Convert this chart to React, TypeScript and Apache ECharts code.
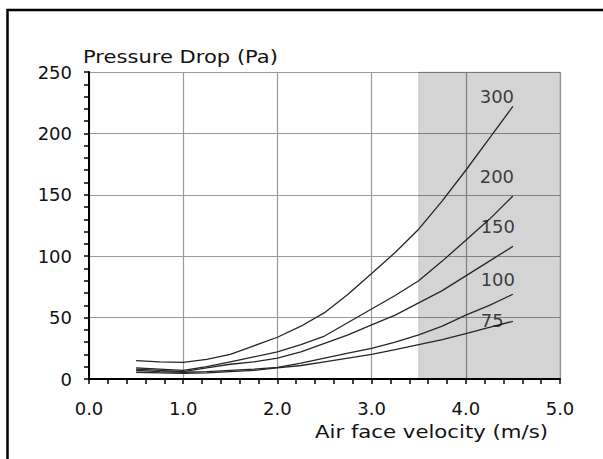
import React, { useEffect, useRef } from "react";
import * as echarts from "echarts";

const velocities = [0.5, 0.75, 1.0, 1.25, 1.5, 1.75, 2.0, 2.25, 2.5, 2.75, 3.0, 3.25, 3.5, 3.75, 4.0, 4.25, 4.5];
const curve300 = [15, 14, 13.5, 16, 20, 27, 34, 43, 54, 69, 86, 103, 122, 145, 170, 196, 222];
const curve200 = [9, 8, 7, 10, 14, 18, 22, 28, 35, 46, 57, 68, 80, 96, 113, 130, 149];
const curve150 = [8, 7, 6, 9, 12, 14, 17, 22, 29, 36, 44, 52, 62, 72, 84, 96, 108];
const curve100 = [7, 6, 5.5, 6, 7, 8, 9.5, 13, 17, 21, 25, 30, 36, 43, 52, 60, 69];
const curve75 = [5.5, 5, 4.5, 5, 6, 7, 9, 11, 14, 17, 20, 24, 28, 32, 37, 42, 47];
const curveNames = ["300", "200", "150", "100", "75"];
const curveLabelX = [4.33, 4.33, 4.34, 4.34, 4.28];
const curveLabelY = [230, 165, 124, 81, 48];
const shadedRange = [3.5, 5.0];
const yTitle = "Pressure Drop (Pa)";
const xTitle = "Air face velocity (m/s)";

const FONT = "DejaVu Sans";

export default function App() {
  const ref = useRef<HTMLDivElement>(null);
  useEffect(() => {
    if (!ref.current) return;
    const chart = echarts.init(ref.current, undefined, { renderer: "svg" });
    const curves = [curve300, curve200, curve150, curve100, curve75];
    const lineSeries = curves.map((c, i) => ({
      type: "line",
      name: curveNames[i],
      data: velocities.map((v, j) => [v, c[j]]),
      showSymbol: false,
      symbol: "none",
      lineStyle: { color: "#262626", width: 1.3 },
      z: 3,
    }));
    chart.setOption({
      animation: false,
      backgroundColor: "#ffffff",
      grid: { left: 89, right: 43, top: 72, bottom: 80 },
      xAxis: {
        type: "value",
        min: 0,
        max: 5,
        interval: 1,
        axisLine: { show: true, onZero: false, lineStyle: { color: "#000", width: 2 } },
        axisTick: { show: true, length: 5, lineStyle: { color: "#000", width: 1.5 } },
        minorTick: { show: true, splitNumber: 5, length: 5, lineStyle: { color: "#000", width: 1.5 } },
        splitLine: { show: true, lineStyle: { color: "#9a9a9a", width: 1.2 } },
        axisLabel: {
          formatter: (v: number) => v.toFixed(1),
          margin: 20,
          fontSize: 18,
          color: "#111",
          fontFamily: FONT,
        },
      },
      yAxis: {
        type: "value",
        min: 0,
        max: 250,
        interval: 50,
        axisLine: { show: true, onZero: false, lineStyle: { color: "#000", width: 2 } },
        axisTick: { show: true, length: 5, lineStyle: { color: "#000", width: 1.5 } },
        minorTick: { show: true, splitNumber: 5, length: 5, lineStyle: { color: "#000", width: 1.5 } },
        splitLine: { show: true, lineStyle: { color: "#9a9a9a", width: 1.2 } },
        axisLabel: { margin: 17, fontSize: 18, color: "#111", fontFamily: FONT },
      },
      series: [
        {
          type: "line",
          data: [],
          z: 1,
          markArea: {
            silent: true,
            itemStyle: { color: "rgba(0,0,0,0.17)", borderColor: "rgba(0,0,0,0.12)", borderWidth: 1 },
            data: [[{ xAxis: shadedRange[0], yAxis: 0 }, { xAxis: shadedRange[1], yAxis: 250 }]],
          },
        },
        ...lineSeries,
        {
          type: "scatter",
          symbolSize: 0,
          z: 4,
          data: curveNames.map((n, i) => [curveLabelX[i], curveLabelY[i], n]),
          label: {
            show: true,
            position: "inside",
            formatter: (p: any) => p.value[2],
            fontSize: 18,
            color: "#111",
            fontFamily: FONT,
          },
        },
      ],
      graphic: [
        {
          type: "text",
          x: 83,
          y: 57,
          scaleX: 1.17,
          style: { text: yTitle, fill: "#111", font: `18px ${FONT}`, align: "left", verticalAlign: "middle" },
        },
        {
          type: "text",
          x: 548,
          y: 432,
          scaleX: 1.18,
          style: { text: xTitle, fill: "#111", font: `18px ${FONT}`, align: "right", verticalAlign: "middle" },
        },
        {
          type: "rect",
          silent: true,
          z: 100,
          shape: { x: 7.5, y: 10, width: 700, height: 600 },
          style: { fill: "none", stroke: "#000", lineWidth: 2.5 },
        },
      ],
    });
    return () => chart.dispose();
  }, []);
  return (
    <div
      ref={ref}
      style={{ position: "fixed", left: 0, top: 0, width: 603, height: 459, background: "#fff" }}
    />
  );
}
